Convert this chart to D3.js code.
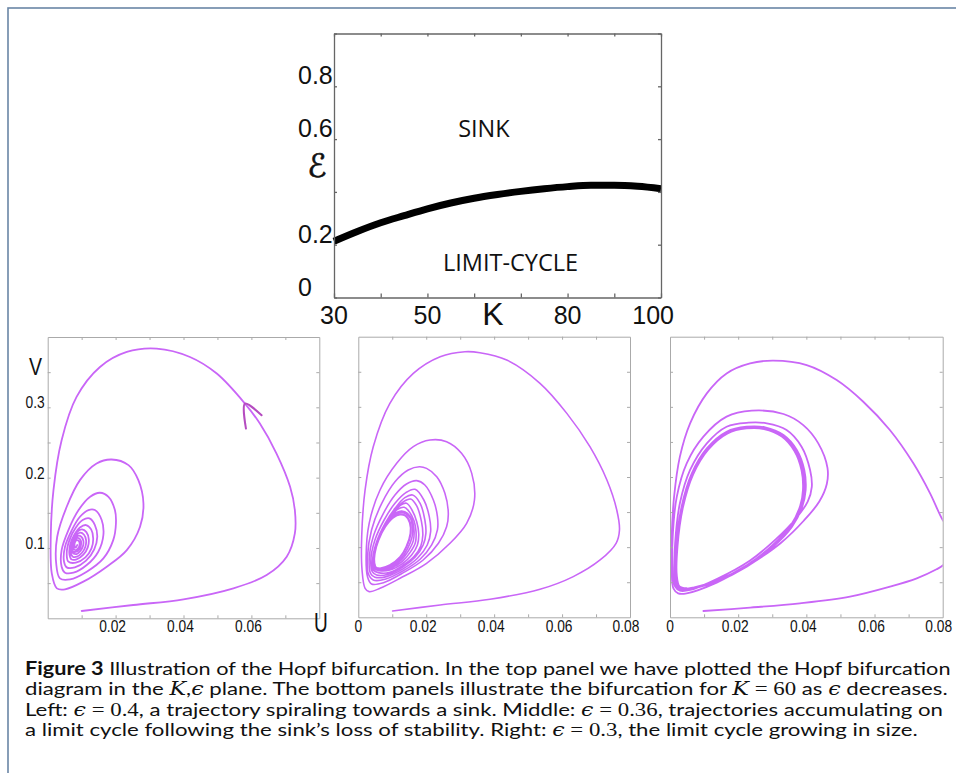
<!DOCTYPE html>
<html><head><meta charset="utf-8">
<script src="https://cdn.jsdelivr.net/npm/d3@7"></script>
<style>body{margin:0;background:#fff}svg{display:block}text{white-space:pre}</style>
</head><body>
<svg id="c" width="956" height="773"></svg>
<script>
// ---------- DATA ----------
// Top panel: Hopf bifurcation curve in (K, epsilon) plane
const topK   = [30, 35, 40, 45, 50, 55, 60, 65, 70, 75, 80, 85, 90, 95, 100];
const topEps = [0.213, 0.25, 0.283, 0.31, 0.336, 0.358, 0.376, 0.39, 0.402, 0.412, 0.42, 0.425, 0.425, 0.421, 0.412];
const topXTicks = [30, 40, 50, 60, 70, 80, 90, 100];
const topXLabels = ["30", "50", "80", "100"];
const topYTicks = [0, 0.2, 0.4, 0.6, 0.8, 1];
const topYLabels = ["0", "0.2", "0.6", "0.8"];
const topRegionLabels = [{t: "SINK", k: 62.1, e: 0.609}, {t: "LIMIT-CYCLE", k: 67.8, e: 0.099}];

// Bottom panels: u-v phase plane trajectories
const uTicks = [0.01, 0.02, 0.03, 0.04, 0.05, 0.06, 0.07];
const vTicks = [0.05, 0.1, 0.15, 0.2, 0.25, 0.3, 0.35];
const leftULabels = ["0.02", "0.04", "0.06"];
const otherULabels = ["0", "0.02", "0.04", "0.06", "0.08"];
const leftVLabels = ["0.1", "0.2", "0.3"];

// Left: epsilon = 0.4, spiral into a sink
const leftTraj = [
 [0.01,0.0104],[0.0252,0.0189],[0.04,0.027],[0.0547,0.0426],[0.0645,0.0615],[0.0704,0.0876],[0.0728,0.1207],[0.0728,0.1539],
 [0.0714,0.187],[0.0674,0.2343],[0.0625,0.2769],[0.0581,0.3053],[0.0498,0.348],[0.0419,0.3716],[0.0321,0.3835],[0.0233,0.3787],
 [0.0154,0.3574],[0.0085,0.3148],[0.0041,0.2533],[0.0017,0.1823],[0.0009,0.116],[0.0012,0.0639],[0.0027,0.0426],[0.0051,0.0412],
 [0.0105,0.0521],[0.0174,0.0734],[0.0233,0.097],[0.0272,0.1302],[0.0282,0.1633],[0.0267,0.1965],[0.0238,0.2178],[0.0188,0.2258],
 [0.0144,0.2201],[0.0095,0.1965],[0.0056,0.1586],[0.0028,0.116],[0.0025,0.0781],[0.0036,0.0568],
 [0.0066,0.0554],[0.0115,0.0663],[0.0164,0.0852],[0.0193,0.1112],[0.0201,0.1349],[0.0198,0.1539],[0.0179,0.1728],[0.0154,0.1785],
 [0.0125,0.1728],[0.0091,0.1539],[0.0061,0.1255],[0.0041,0.097],[0.0041,0.0734],[0.0051,0.0649],
 [0.0076,0.0649],[0.0115,0.0757],[0.0149,0.0947],[0.0164,0.1184],[0.0159,0.1397],[0.0139,0.1539],[0.012,0.1539],[0.0095,0.1444],
 [0.0071,0.1255],[0.0051,0.1018],[0.0048,0.0805],[0.0056,0.0724],
 [0.008,0.0724],[0.0113,0.0819],[0.0137,0.098],[0.0146,0.116],[0.0139,0.1326],[0.0123,0.142],[0.0103,0.1397],[0.0083,0.1292],
 [0.0064,0.1112],[0.0056,0.0923],[0.0061,0.0805],
 [0.0083,0.0791],[0.0111,0.0866],[0.0129,0.0994],[0.0134,0.1136],[0.0128,0.1264],[0.0113,0.1326],[0.0095,0.1292],[0.0078,0.1184],
 [0.0066,0.1042],[0.0064,0.0914],[0.007,0.0838],
 [0.0085,0.0838],[0.0105,0.0904],[0.0118,0.1008],[0.0121,0.1122],[0.0114,0.1226],[0.0101,0.1264],[0.0087,0.1231],[0.0074,0.1136],
 [0.0067,0.1018],[0.0068,0.0923],[0.0074,0.0876],
 [0.0086,0.0876],[0.0101,0.0932],[0.0111,0.1018],[0.0113,0.1112],[0.0107,0.1188],[0.0096,0.1217],[0.0084,0.1184],[0.0073,0.1103],
 [0.0069,0.1008],[0.0072,0.0937],
 [0.0085,0.0914],[0.0097,0.0961],[0.0104,0.1027],[0.0105,0.1103],[0.0099,0.116],[0.009,0.1174],[0.008,0.1141],[0.0073,0.1075],
 [0.0072,0.1004],[0.0075,0.0951],
 [0.0085,0.0947],[0.0094,0.0985],[0.0098,0.1042],[0.0098,0.1098],[0.0093,0.1136],[0.0086,0.1141],[0.0079,0.1112],[0.0075,0.1056],
 [0.0076,0.0999],[0.008,0.0971],
 [0.0086,0.098],[0.0092,0.1013],[0.0094,0.106],[0.0092,0.1098],[0.0086,0.1112],[0.0081,0.1089],[0.0079,0.1042],[0.0082,0.1004],
 [0.0087,0.1042]
];
const leftArrow = [[0.0584,0.2698],[0.0581,0.3053],[0.063,0.2887]];

// Middle: epsilon = 0.36, accumulating on a small limit cycle
const midTraj = [
 [0.0101,0.009],[0.0241,0.0176],[0.0388,0.0257],[0.0535,0.0399],[0.0633,0.058],[0.0712,0.0817],[0.0759,0.1055],[0.0769,0.1245],
 [0.0761,0.153],[0.0732,0.1957],[0.0682,0.2432],[0.0614,0.2907],[0.0535,0.3335],[0.0437,0.3667],[0.0358,0.3772],[0.0314,0.3786],
 [0.0241,0.3715],[0.0162,0.3477],[0.0093,0.305],[0.0044,0.2432],[0.002,0.1815],[0.001,0.115],[0.0011,0.0675],[0.002,0.0413],[0.0032,0.0366],
 [0.0064,0.0413],[0.0123,0.0556],[0.0201,0.077],[0.027,0.1055],[0.0319,0.134],[0.0342,0.1672],[0.0334,0.2052],[0.0304,0.2337],
 [0.026,0.2503],[0.0211,0.2527],[0.0162,0.2432],[0.0113,0.2195],[0.0064,0.1815],[0.0032,0.134],[0.0023,0.0865],[0.0027,0.058],[0.0039,0.0475],
 [0.0074,0.0494],[0.0133,0.0637],[0.0191,0.0817],[0.0236,0.1055],[0.026,0.1292],[0.0265,0.1482],[0.0255,0.1767],[0.0231,0.2005],
 [0.0201,0.2123],[0.018,0.2147],[0.0147,0.21],[0.0108,0.1933],[0.0069,0.1625],[0.0039,0.1245],[0.0027,0.0865],[0.0029,0.0627],[0.0044,0.0532],
 [0.0079,0.0542],[0.0133,0.0665],[0.0182,0.0827],[0.0216,0.1031],[0.0233,0.1245],[0.0233,0.1435],[0.0221,0.1672],[0.0196,0.1886],
 [0.0172,0.1948],[0.0142,0.19],[0.0108,0.1743],[0.0074,0.1482],[0.0044,0.115],[0.0032,0.0817],[0.0036,0.0627],[0.0049,0.057],
 [0.0083,0.058],[0.0133,0.0694],[0.0174,0.0841],[0.0203,0.1031],[0.0213,0.1221],[0.0209,0.1435],[0.0193,0.1672],[0.0167,0.1824],
 [0.014,0.1777],[0.0108,0.1625],[0.0076,0.1387],[0.0049,0.1102],[0.0037,0.0817],[0.0041,0.0651],[0.0054,0.0603],
 [0.0088,0.0613],[0.0133,0.0722],[0.0167,0.0855],[0.0191,0.1031],[0.0199,0.1197],[0.0196,0.1387],[0.0182,0.1625],[0.016,0.1743],
 [0.0137,0.1705],[0.0108,0.1553],[0.0079,0.134],[0.0054,0.1078],[0.0042,0.0817],[0.0044,0.0675],[0.0059,0.0637],
 [0.0093,0.0641],[0.0133,0.0746],[0.0164,0.0865],[0.0184,0.1017],[0.019,0.1173],[0.0186,0.1363],[0.0172,0.1587],[0.0154,0.1686],
 [0.0133,0.1648],[0.0104,0.1506],[0.0075,0.1292],[0.0053,0.1055],[0.0043,0.0817],[0.0046,0.0694],[0.0062,0.0665],
 [0.0093,0.0675],[0.0131,0.077],[0.0157,0.0888],[0.0174,0.1031],[0.0178,0.1188],[0.0172,0.1363],[0.0158,0.153],[0.0142,0.1625],
 [0.0125,0.1601],[0.0101,0.1468],[0.0074,0.1268],[0.0053,0.1045],[0.0044,0.0817],[0.0047,0.0713],[0.0062,0.0675],
 [0.0093,0.0694],[0.0129,0.0793],[0.0152,0.0922],[0.0168,0.1064],[0.017,0.1221],[0.0164,0.1377],[0.015,0.1506],[0.0135,0.1568],
 [0.0117,0.1544],[0.0095,0.1435],[0.0072,0.1245],[0.0053,0.1026],[0.0045,0.0817],[0.0048,0.0722],[0.0062,0.0684],
 [0.0093,0.0713],[0.0127,0.0817],[0.0148,0.095],[0.0162,0.1093],[0.0164,0.1245],[0.0158,0.1387],[0.0145,0.1482],[0.0128,0.1515],
 [0.0111,0.1492],[0.009,0.1406],[0.0068,0.1226],[0.0051,0.1007],[0.0046,0.0808],[0.005,0.0722],[0.0062,0.0694],
 [0.0093,0.0727],[0.0125,0.0836],[0.0145,0.0979],[0.0158,0.114],[0.0159,0.1283],[0.0154,0.1406],[0.014,0.1477],[0.0125,0.1492],
 [0.0107,0.1458],[0.0084,0.1349],[0.0064,0.1169],[0.0049,0.096],[0.0046,0.0798],[0.005,0.0717],[0.0062,0.0694]
];
const midCycle = [
 [0.0064,0.0694],[0.0093,0.0741],[0.0123,0.0855],[0.0142,0.1007],[0.0154,0.1197],[0.0152,0.1349],[0.0139,0.1449],[0.0123,0.1468],
 [0.0103,0.1425],[0.0079,0.1292],[0.0059,0.1102],[0.0048,0.0912],[0.0047,0.077],[0.0052,0.0703]
];

// Right: epsilon = 0.3, larger limit cycle
const rightTraj = [
 [0.0098,0.009],[0.0235,0.0138],[0.0381,0.02],[0.0528,0.0295],[0.0645,0.0437],[0.0724,0.0556],[0.0782,0.0684],[0.0802,0.0746],
 [0.0825,0.088],[0.0835,0.105],[0.0825,0.122],[0.08,0.1387],[0.0763,0.1767],[0.0714,0.2195],[0.0645,0.267],[0.0567,0.3073],
 [0.0489,0.3382],[0.0401,0.3596],[0.0303,0.3658],[0.0235,0.362],[0.0166,0.3477],[0.0108,0.3192],[0.0059,0.2765],[0.0029,0.229],
 [0.0012,0.172],[0.0005,0.115],[0.0005,0.0675],[0.001,0.0413],[0.0024,0.0342],[0.0049,0.0342],
 [0.0137,0.0495],[0.0235,0.0755],[0.0325,0.106],[0.0393,0.138],[0.0438,0.165],[0.046,0.19],[0.0462,0.213],[0.0435,0.248],
 [0.0391,0.274],[0.0333,0.2898],[0.024,0.2945],[0.0166,0.286],[0.0098,0.2575],[0.0049,0.2195],[0.002,0.172],[0.0008,0.115],
 [0.0008,0.0675],[0.0015,0.0437],[0.0029,0.038],[0.0059,0.039],
 [0.0137,0.0545],[0.0235,0.081],[0.031,0.111],[0.0368,0.14],[0.0404,0.165],[0.0416,0.186],[0.0411,0.21],[0.0386,0.2432],
 [0.0342,0.267],[0.0284,0.2765],[0.023,0.2774],[0.0166,0.2717],[0.0108,0.248],[0.0059,0.21],[0.0029,0.1625],[0.0015,0.1055],
 [0.0014,0.0627],[0.002,0.0437],[0.0034,0.039],
 [0.0068,0.0413],[0.0137,0.0508],[0.0225,0.0722],[0.0303,0.1007],[0.0358,0.1292],[0.0388,0.1577],[0.0398,0.1815],[0.0394,0.21],
 [0.0372,0.2385],[0.0333,0.2598],[0.0279,0.2708],[0.0225,0.2717],[0.0166,0.2646],[0.0108,0.2408],[0.0064,0.2052],[0.0034,0.1577],
 [0.0018,0.1007],[0.0016,0.058],[0.0024,0.0428],[0.0044,0.04],
 [0.007,0.0422],[0.0138,0.0518],[0.0225,0.0733],[0.0302,0.1017],[0.0356,0.1301],[0.0385,0.1583],[0.0394,0.1815],[0.039,0.2097],
 [0.0369,0.2378],[0.0331,0.2588],[0.0278,0.2697],[0.0225,0.2705],[0.0167,0.2635],[0.011,0.2400],[0.0066,0.2046],[0.0036,0.1573],
 [0.002,0.1007],[0.0018,0.0588],[0.0026,0.0434],[0.0046,0.0408],
 [0.0071,0.0428],[0.0139,0.0526],[0.0225,0.0742],[0.03,0.1026],[0.0354,0.131],[0.0382,0.1589],[0.039,0.1815],[0.0386,0.2092],
 [0.0365,0.2370],[0.0328,0.2576],[0.0276,0.2684],[0.0225,0.2692],[0.0169,0.2622],[0.0112,0.2390],[0.0068,0.2038],[0.0038,0.1568],
 [0.0022,0.1007],[0.002,0.0596],[0.0028,0.0442],[0.0048,0.0416]
];

const captionLines = [
 [["Figure 3","b"],[" Illustration of the Hopf bifurcation. In the top panel we have plotted the Hopf bifurcation",""]],
 [["diagram in the ",""],["K","m"],[",",""],["ϵ","m"],[" plane. The bottom panels illustrate the bifurcation for ",""],["K","m"],[" = 60","r"],[" as ",""],["ϵ","m"],[" decreases.",""]],
 [["Left: ",""],["ϵ","m"],[" = 0.4","r"],[", a trajectory spiraling towards a sink. Middle: ",""],["ϵ","m"],[" = 0.36","r"],[", trajectories accumulating on",""]],
 [["a limit cycle following the sink’s loss of stability. Right: ",""],["ϵ","m"],[" = 0.3","r"],[", the limit cycle growing in size.",""]]
];

// ---------- DRAW ----------
const svg = d3.select("#c");
svg.append("rect").attr("width",956).attr("height",773).attr("fill","#fff");
svg.append("rect").attr("x",8).attr("y",8).attr("width",1000).attr("height",1000)
  .attr("fill","none").attr("stroke","#6a86a6").attr("stroke-width",1.6);

function narrow(sel, f){ const n = sel.node(); const L = n.getComputedTextLength(); sel.attr("textLength", L*f).attr("lengthAdjust","spacingAndGlyphs"); return sel; }

// Top panel
const xK = d3.scaleLinear().domain([30,100]).range([334,661]);
const yE = d3.scaleLinear().domain([0,1]).range([297.5,33.5]);
const gT = svg.append("g");
gT.append("path")
  .datum(topK.map((k,i)=>[k,topEps[i]]))
  .attr("d", d3.line().x(d=>xK(d[0])).y(d=>yE(d[1])).curve(d3.curveMonotoneX))
  .attr("fill","none").attr("stroke","#000").attr("stroke-width",7);
function styleAx(g, col){ g.selectAll("path,line").attr("stroke",col).attr("stroke-width",1.3); g.selectAll("text").remove(); }
gT.append("g").attr("transform",`translate(0,${yE(0)})`)
  .call(d3.axisBottom(xK).tickValues(topXTicks).tickSizeInner(-4).tickSizeOuter(0)).call(g=>styleAx(g,"#666"));
gT.append("g").attr("transform",`translate(0,${yE(1)})`)
  .call(d3.axisTop(xK).tickValues(topXTicks).tickSizeInner(-3).tickSizeOuter(0)).call(g=>styleAx(g,"#666"));
gT.append("g").attr("transform",`translate(${xK(30)},0)`)
  .call(d3.axisLeft(yE).tickValues(topYTicks).tickSizeInner(-3).tickSizeOuter(0)).call(g=>styleAx(g,"#666"));
gT.append("g").attr("transform",`translate(${xK(100)},0)`)
  .call(d3.axisRight(yE).tickValues(topYTicks).tickSizeInner(-3).tickSizeOuter(0)).call(g=>styleAx(g,"#666"));

const tf = "'Liberation Sans', Arial, sans-serif";
topXLabels.forEach((s,i)=>{
  const v = +s, last = i===topXLabels.length-1;
  gT.append("text").attr("x", xK(v) + (last?13:0)).attr("y",324)
    .attr("text-anchor", last?"end":"middle").attr("font-family",tf).attr("font-size",25).attr("fill","#111").text(s);
});
topYLabels.forEach(s=>{
  gT.append("text").attr("x",298).attr("y",yE(+s)-2).attr("text-anchor","start")
    .attr("font-family",tf).attr("font-size",25).attr("fill","#111").text(s);
});
gT.append("text").attr("x",493).attr("y",325).attr("text-anchor","middle")
  .attr("font-family",tf).attr("font-size",32).attr("fill","#111").text("K");
gT.append("text").attr("x",317).attr("y",177).attr("text-anchor","middle")
  .attr("font-family","'DejaVu Sans', sans-serif").attr("font-size",32).attr("fill","#111")
  .attr("stroke","#111").attr("stroke-width",0.6).text("ℰ");
topRegionLabels.forEach(r=>{
  gT.append("text").attr("x",xK(r.k)).attr("y",yE(r.e)).attr("text-anchor","middle")
    .attr("font-family","'Open Sans', 'Noto Sans', sans-serif").attr("font-size",23.5).attr("fill","#111").text(r.t);
});

// Bottom panels
const trajColor = "#c966f7";
const nf = "'Liberation Sans', Arial, sans-serif";
function panel(id, x0, x1, y0, y1, paths, uLabels, vLabels){
  const xU = d3.scaleLinear().domain([0,0.08]).range([x0,x1]);
  const yV = d3.scaleLinear().domain([0,0.4]).range([y1,y0]);
  const g = svg.append("g");
  g.append("clipPath").attr("id",id).append("rect").attr("x",x0).attr("y",y0).attr("width",x1-x0).attr("height",y1-y0);
  const line = d3.line().x(d=>xU(d[0])).y(d=>yV(d[1])).curve(d3.curveCatmullRom.alpha(0.5));
  const lineC = d3.line().x(d=>xU(d[0])).y(d=>yV(d[1])).curve(d3.curveCatmullRomClosed.alpha(0.5));
  const pg = g.append("g").attr("clip-path",`url(#${id})`);
  paths.forEach(p=>{
    pg.append("path").attr("d", p.closed ? lineC(p.data) : line(p.data))
      .attr("fill","none").attr("stroke",p.color||trajColor).attr("stroke-width",p.w||1.8)
      .attr("stroke-linejoin","round").attr("stroke-linecap","round");
  });
  const ac = "#aaa";
  const st = g2=>{ g2.selectAll("path,line").attr("stroke",ac).attr("stroke-width",1); g2.selectAll("text").remove(); };
  g.append("g").attr("transform",`translate(0,${y1})`).call(d3.axisBottom(xU).tickValues(uTicks).tickSizeInner(-3).tickSizeOuter(0)).call(st);
  g.append("g").attr("transform",`translate(0,${y0})`).call(d3.axisTop(xU).tickValues(uTicks).tickSizeInner(-3).tickSizeOuter(0)).call(st);
  g.append("g").attr("transform",`translate(${x0},0)`).call(d3.axisLeft(yV).tickValues(vTicks).tickSizeInner(-3).tickSizeOuter(0)).call(st);
  g.append("g").attr("transform",`translate(${x1},0)`).call(d3.axisRight(yV).tickValues(vTicks).tickSizeInner(-3).tickSizeOuter(0)).call(st);
  uLabels.forEach(s=>{
    const v=+s; const off = v===0?0:(v===0.08?-4:-3);
    const t = g.append("text").attr("x",xU(v)+off).attr("y",632).attr("text-anchor","middle")
      .attr("font-family",nf).attr("font-size",16).attr("fill","#111").text(s);
    narrow(t, 0.86);
  });
  vLabels.forEach(s=>{
    const t = g.append("text").attr("x",x0-3).attr("y",yV(+s)+1).attr("text-anchor","end")
      .attr("font-family",nf).attr("font-size",16).attr("fill","#111").text(s);
    narrow(t, 0.86);
  });
  return {xU,yV,g};
}
panel("clipL", 47.7, 319.3, 337, 618.3,
  [{data:leftTraj},{data:leftArrow,color:"#b54cc0",w:2}], leftULabels, leftVLabels);
panel("clipM", 358.3, 630, 336.7, 617.3,
  [{data:midTraj, w:1.6},{data:midCycle,closed:true,w:2.2}], otherULabels, []);
panel("clipR", 670, 942.7, 336.7, 617.3,
  [{data:rightTraj}], otherULabels, []);
narrow(svg.append("text").attr("x",35.5).attr("y",375).attr("text-anchor","middle")
  .attr("font-family",nf).attr("font-size",23).attr("fill","#111").text("V"), 0.85);
narrow(svg.append("text").attr("x",321).attr("y",632).attr("text-anchor","middle")
  .attr("font-family",nf).attr("font-size",28).attr("fill","#111").text("U"), 0.68);

// Caption
const capBase = [674.5, 695.2, 715.8, 736.4];
const capLen = [925.5, 922.7, 918, 892.7];
captionLines.forEach((segs,i)=>{
  const t = svg.append("text").attr("x",25).attr("y",capBase[i])
    .attr("font-family","Lato, 'Open Sans', sans-serif").attr("font-size",18).attr("fill","#111")
    .attr("textLength",capLen[i]).attr("lengthAdjust","spacingAndGlyphs");
  segs.forEach(([s,k])=>{
    const ts = t.append("tspan").text(s);
    if(k==="b") ts.attr("font-weight","bold");
    if(k==="m") ts.attr("font-family","'DejaVu Serif', 'Liberation Serif', serif").attr("font-style","italic");
    if(k==="r") ts.attr("font-family","'Liberation Serif', 'DejaVu Serif', serif").attr("font-size",18.5);
  });
});
</script>
</body></html>
